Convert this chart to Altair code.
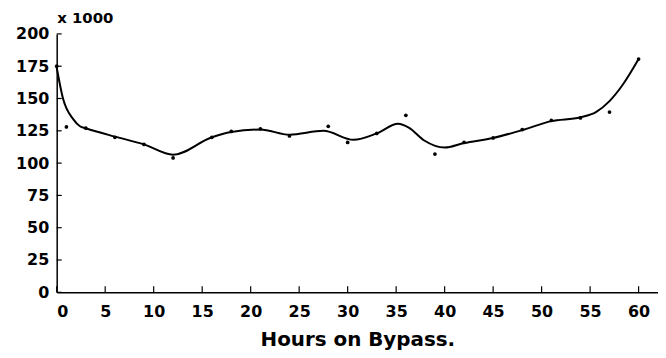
import altair as alt
import pandas as pd

# Measured points (hours on bypass, value x 1000)
hours = [0, 1, 3, 6, 9, 12, 16, 18, 21, 24, 28, 30, 33, 36, 39, 42, 45, 48, 51, 54, 57, 60]
values = [175, 128, 127, 120, 114.5, 104, 120, 124.5, 126.5, 121, 128.5, 116, 123, 137, 107,
          116, 119.5, 126, 133, 135, 139.5, 180.5]

# Hand-drawn smooth curve
curve_hours = [0, 0.65, 1.7, 2.4, 3, 6, 9, 12, 16, 18, 21, 24, 27.5, 30.6, 33, 35.2, 36.3,
               37.9, 40, 42, 45, 48, 51, 54, 55.6, 57, 58.4, 60]
curve_values = [174, 150, 134, 128.5, 127, 120.5, 114.5, 106.5, 120, 124, 126, 122, 125, 118,
                123, 130.5, 127.5, 117.5, 112, 115.5, 119.5, 125.5, 132.5, 135.5, 139.5, 148,
                161, 180.5]

x_ticks = list(range(0, 61, 5))
y_ticks = list(range(0, 201, 25))

pts = pd.DataFrame({"h": hours, "v": values})
crv = pd.DataFrame({"h": curve_hours, "v": curve_values})
xt = pd.DataFrame({"h": x_ticks})
yt = pd.DataFrame({"v": y_ticks})

FONT = "DejaVu Sans"
xscale = alt.Scale(domain=[0, 62], nice=False, zero=False)
yscale = alt.Scale(domain=[0, 200], nice=False)

xaxis = alt.Axis(values=x_ticks, tickSize=0, labelPadding=11, grid=False, labelOverlap=False,
                 domainColor="black", domainWidth=1.5,
                 labelFont=FONT, labelFontWeight="bold", labelFontSize=16, labelColor="black",
                 title="Hours on Bypass.", titleFont=FONT, titleFontWeight="bold",
                 titleFontSize=20, titleColor="black", titlePadding=11)
yaxis = alt.Axis(values=y_ticks, tickSize=0, labelPadding=8, grid=False, labelOverlap=False,
                 domainColor="black", domainWidth=1.5,
                 labelFont=FONT, labelFontWeight="bold", labelFontSize=16, labelColor="black",
                 title="x 1000", titleFont=FONT, titleFontWeight="bold", titleFontSize=15,
                 titleColor="black", titleAngle=0, titleX=0, titleY=-16,
                 titleAlign="left", titleBaseline="middle")

X = alt.X("h:Q", scale=xscale, axis=xaxis)
Y = alt.Y("v:Q", scale=yscale, axis=yaxis)

line = alt.Chart(crv).mark_line(color="black", strokeWidth=2, interpolate="monotone").encode(
    x=X, y=Y,
)

dots = alt.Chart(pts).mark_circle(color="black", size=14, opacity=1).encode(
    x=X, y=Y,
)

xticks = alt.Chart(xt).mark_rule(color="black", strokeWidth=1.2).encode(
    x=X,
    y=alt.value(260), y2=alt.value(254),
)

yticks = alt.Chart(yt).mark_rule(color="black", strokeWidth=1.2).encode(
    y=Y,
    x=alt.value(0), x2=alt.value(5),
)

chart = alt.layer(line, dots, xticks, yticks).properties(
    width=605, height=260,
    autosize=alt.AutoSizeParams(type="none"),
    padding={"left": 49, "top": 25, "right": 0, "bottom": 61},
    background="white",
).configure_view(stroke=None)

chart.save("out.html", embed_options={"renderer": "svg", "actions": False})
